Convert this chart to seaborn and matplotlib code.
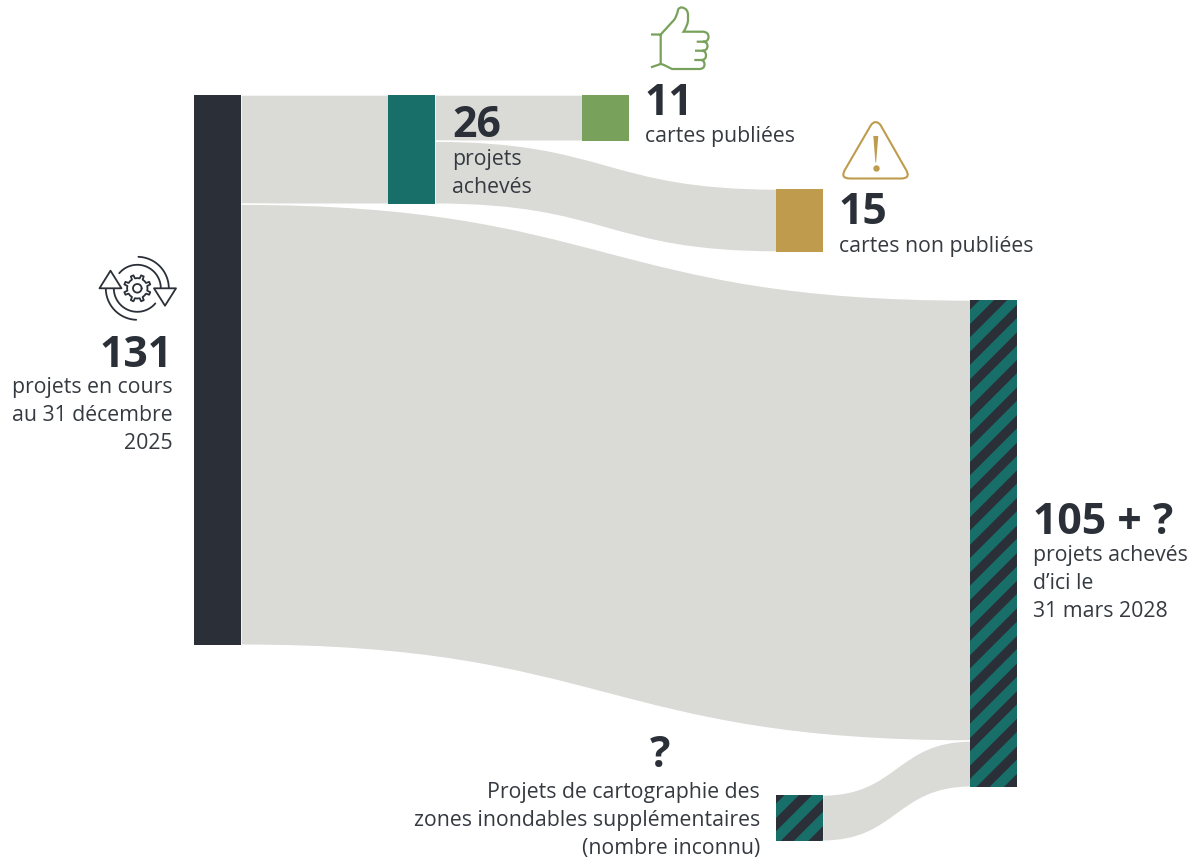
import numpy as np
import pandas as pd
import matplotlib
matplotlib.use("Agg")
import matplotlib.pyplot as plt
import seaborn as sns
from matplotlib.patches import PathPatch, Polygon, Rectangle
from matplotlib.path import Path

# data: number of projects per node (the "?" nodes have no known size, 11 is what is drawn)
node_names = ["en_cours", "acheves", "publiees", "non_publiees", "fin_2028", "inconnu"]
node_values = [131, 26, 11, 15, 116, 11]
flow_sources = ["en_cours", "en_cours", "acheves", "acheves", "inconnu"]
flow_targets = ["acheves", "fin_2028", "publiees", "non_publiees", "fin_2028"]
flow_values = [26, 105, 11, 15, 11]

# labels
big_labels = ["131", "26", "11", "15", "105 + ?", "?"]
small_labels = [
    ["projets en cours", "au 31 décembre", "2025"],
    ["projets", "achevés"],
    ["cartes publiées"],
    ["cartes non publiées"],
    ["projets achevés", "d’ici le", "31 mars 2028"],
    ["Projets de cartographie des", "zones inondables supplémentaires", "(nombre inconnu)"],
]

# layout, everything in pixels of the 1196x860 picture
PX = 4.2
NODE_W = 47
node_left = dict(en_cours=194, acheves=388, publiees=582, non_publiees=776, fin_2028=969.5, inconnu=775.5)
node_top = dict(en_cours=95, acheves=95, publiees=95, non_publiees=189, fin_2028=300, inconnu=795)
node_color = dict(en_cours="#2b3038", acheves="#186e69", publiees="#78a25b", non_publiees="#bf9c4d")
striped = dict(fin_2028=1266.5, inconnu=1566.4)
# x and baseline of the big number, x and first baseline of the small lines, alignments
text_pos = dict(
    en_cours=(173, 367, 173, 393, "right", "right"), acheves=(452, 137, 452, 165, "left", "left"),
    publiees=(645, 115, 645, 142, "left", "left"), non_publiees=(839, 224, 839, 252, "left", "left"),
    fin_2028=(1033, 534, 1033, 561, "left", "left"), inconnu=(660, 767, 760, 798, "center", "right"),
)

DARK = "#2b3038"
TEAL = "#186e69"
FLOW = "#dadbd6"
GREEN = "#78a25b"
GOLD = "#bf9c4d"

sns.set_theme(style="white")
plt.rcParams["font.family"] = ["Open Sans", "DejaVu Sans"]

fig = plt.figure(figsize=(11.96, 8.6), dpi=100)
ax = fig.add_axes([0, 0, 1, 1])

nodes = pd.DataFrame({"name": node_names, "value": node_values})
nodes["height"] = nodes["value"] * PX
nodes["left"] = nodes["name"].map(node_left)
nodes["top"] = nodes["name"].map(node_top)


def link(ax, x0, x1, top0, bot0, top1, bot1):
    xm = (x0 + x1) / 2
    verts = [(x0, top0), (xm, top0), (xm, top1), (x1, top1), (x1, bot1),
             (xm, bot1), (xm, bot0), (x0, bot0), (x0, top0)]
    codes = [Path.MOVETO, Path.CURVE4, Path.CURVE4, Path.CURVE4, Path.LINETO,
             Path.CURVE4, Path.CURVE4, Path.CURVE4, Path.CLOSEPOLY]
    ax.add_patch(PathPatch(Path(verts, codes), fc=FLOW, ec="white", lw=1.0, zorder=1))


# flows, stacked on each node in the order of the lists
out_used = {n: 0 for n in node_names}
in_used = {n: 0 for n in node_names}
for src, tgt, val in zip(flow_sources, flow_targets, flow_values):
    h = val * PX
    t0 = node_top[src] + out_used[src]
    t1 = node_top[tgt] + in_used[tgt]
    # the target end runs a little under the node so no white slit shows there
    link(ax, node_left[src] + NODE_W, node_left[tgt] + 1.5, t0, t0 + h, t1, t1 + h)
    out_used[src] += h
    in_used[tgt] += h

# nodes
for _, row in nodes.iterrows():
    col = node_color.get(row["name"], TEAL)
    sns.barplot(x=[row["left"] + NODE_W / 2], y=[row["height"]], native_scale=True, width=NODE_W,
                bottom=row["top"], color=col, saturation=1, linewidth=0, ax=ax, zorder=2)

# diagonal stripes on the two striped nodes
for name, phase in striped.items():
    row = nodes[nodes["name"] == name].iloc[0]
    clip = Rectangle((row["left"], row["top"]), NODE_W, row["height"], transform=ax.transData)
    y0, y1 = row["top"], row["top"] + row["height"]
    for k in range(-2, 40):
        a = phase + 27.6 * k
        b = a + 13.2
        poly = Polygon([(a - y0, y0), (b - y0, y0), (b - y1, y1), (a - y1, y1)],
                       closed=True, fc=DARK, ec="none", zorder=3)
        ax.add_patch(poly)
        poly.set_clip_path(clip)

# texts
for name, big, small in zip(node_names, big_labels, small_labels):
    xb, yb, xs, ys, hb, hs = text_pos[name]
    ax.text(xb, yb, big, fontsize=30.8, fontweight="bold", color=DARK, ha=hb, va="baseline", zorder=5)
    for i, line in enumerate(small):
        ax.text(xs, ys + i * 28, line, fontsize=15.3, color="#353a41", ha=hs, va="baseline", zorder=5)

# thumb icon
M, L, Q = Path.MOVETO, Path.LINETO, Path.CURVE3
thumb = [(M, (651, 34.5)), (L, (660.7, 34.5)), (L, (674, 20)), (Q, (677, 16)), (Q, (678, 10)), (Q, (679, 7)),
         (Q, (682, 7.5)), (Q, (688, 8.5)), (Q, (688, 15)), (L, (688, 21)), (Q, (687, 27)), (Q, (683.5, 31.7)),
         (L, (703, 31.7)), (Q, (708.5, 32)), (Q, (708.5, 37)), (Q, (708.5, 41.7)), (Q, (703, 41.7)),
         (L, (696.7, 41.7)), (M, (703, 41.7)), (Q, (707.5, 42)), (Q, (707.5, 46)), (Q, (707.5, 50.7)),
         (Q, (702, 50.7)), (L, (695, 50.7)), (M, (702, 50.7)), (Q, (706, 51)), (Q, (706, 55.5)), (Q, (706, 60)),
         (Q, (701, 60)), (L, (694.3, 60)), (M, (701, 60)), (Q, (704.5, 60.5)), (Q, (704.5, 64.5)), (Q, (704.5, 69)),
         (Q, (699, 69)), (L, (672, 69)), (L, (665, 65.5)), (Q, (662, 64)), (Q, (660.7, 64)), (L, (651, 67.3)),
         (M, (660.7, 34.5)), (L, (660.7, 64))]
ax.add_patch(PathPatch(Path([v for _, v in thumb], [c for c, _ in thumb]), fc="none", ec=GREEN, lw=1.6, zorder=5))

# warning icon
tri_v = [(871, 125), (875.7, 119), (880.5, 125), (905, 168), (912, 178.5), (901, 178.5), (850, 178.5),
         (839, 178.5), (846, 168), (871, 125)]
tri_c = [M, Q, Q, L, Q, Q, L, Q, Q, L]
ax.add_patch(PathPatch(Path(tri_v, tri_c), fc="none", ec=GOLD, lw=1.5, zorder=5))
ax.add_patch(Polygon([(873.3, 136), (878.3, 136), (876.1, 162.5), (875.4, 162.5)], fc=GOLD, ec="none", zorder=5))
ax.plot([875.7], [167.7], "o", ms=4.6, color=GOLD, mec="none", zorder=5)

# gear and arrows icon
cx, cy = 137.3, 288.3


def arc(r, a0, a1):
    t = np.radians(np.linspace(a0, a1, 60))
    return cx + r * np.cos(t), cy + r * np.sin(t)


for r, a0, a1 in [(31.5, -88, 0), (23.5, -140, 0), (31.5, 92, 180), (23.5, 40, 180)]:
    ax.plot(*arc(r, a0, a1), color=DARK, lw=1.3, zorder=5)
for head in ([(154, 288.3), (176, 288.3), (165, 305.7)], [(99.5, 288.3), (121.5, 288.3), (110.5, 270.7)]):
    ax.add_patch(Polygon(head, closed=True, fc="white", ec=DARK, lw=1.3, joinstyle="round", zorder=6))
teeth = []
for k in range(8):
    base = k * 45 + 22.5
    for off, r in [(-22.5, 10.2), (-9, 10.2), (-6, 13.5), (6, 13.5), (9, 10.2)]:
        t = np.radians(base + off)
        teeth.append((cx + r * np.cos(t), cy + r * np.sin(t)))
ax.add_patch(Polygon(teeth, closed=True, fc="white", ec=DARK, lw=1.3, joinstyle="round", zorder=6))
ax.plot(*arc(4.3, 0, 360), color=DARK, lw=1.3, zorder=7)

ax.set_xlim(0, 1196)
ax.set_ylim(860, 0)
ax.set_xticks([])
ax.set_yticks([])
ax.set_xlabel("")
ax.set_ylabel("")
sns.despine(ax=ax, left=True, bottom=True)

fig.savefig("out.png", dpi=100, facecolor="white")
